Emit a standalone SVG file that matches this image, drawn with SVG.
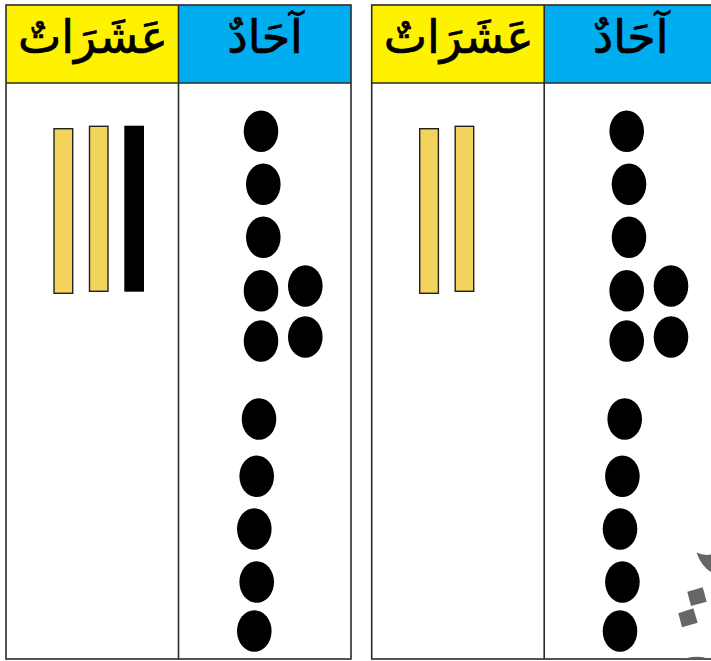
<svg xmlns="http://www.w3.org/2000/svg" width="711" height="661" viewBox="0 0 711 661">
<style>
.frame{fill:none;stroke:#2b2b2b;stroke-width:1.6}
.yel{fill:#FFF200}
.blu{fill:#00AEEF}
.hdr{font-family:"DejaVu Sans","Noto Sans",sans-serif;font-size:46px;fill:#000;stroke:#000;stroke-width:0.7;text-anchor:middle}
.bar{fill:#F2D45C;stroke:#222;stroke-width:1.4}
.bar-k{fill:#000}
.dot{fill:#000}
.deco{fill:#666}
</style>
<defs>
<g id="dots">
<ellipse class="dot" cx="261" cy="131.3" rx="17.3" ry="20.8"/>
<ellipse class="dot" cx="263.3" cy="184.3" rx="17.3" ry="20.8"/>
<ellipse class="dot" cx="263.3" cy="237.3" rx="17.3" ry="20.8"/>
<ellipse class="dot" cx="261" cy="290.7" rx="17.3" ry="20.8"/>
<ellipse class="dot" cx="305.3" cy="286" rx="17.3" ry="20.8"/>
<ellipse class="dot" cx="261" cy="341" rx="17.3" ry="20.8"/>
<ellipse class="dot" cx="305.3" cy="337" rx="17.3" ry="20.8"/>
<ellipse class="dot" cx="259" cy="419" rx="17.3" ry="20.8"/>
<ellipse class="dot" cx="256.7" cy="476.3" rx="17.3" ry="20.8"/>
<ellipse class="dot" cx="254.3" cy="529" rx="17.3" ry="20.8"/>
<ellipse class="dot" cx="256.7" cy="582" rx="17.3" ry="20.8"/>
<ellipse class="dot" cx="254.3" cy="631" rx="17.3" ry="20.8"/>
</g>
</defs>
<g id="table-left">
<rect class="yel" x="6" y="5" width="172.5" height="78"/>
<rect class="blu" x="178.5" y="5" width="172.5" height="78"/>
<rect class="frame" x="6" y="5" width="345" height="654"/>
<line class="frame" x1="6" y1="83" x2="351" y2="83"/>
<line class="frame" x1="178.5" y1="5" x2="178.5" y2="659"/>
<text class="hdr" x="93" y="53">عَشَرَاتٌ</text>
<text class="hdr" x="265" y="53">آحَادٌ</text>
<rect class="bar" x="54" y="128.7" width="18.7" height="164.6"/>
<rect class="bar" x="89.5" y="126.3" width="18.5" height="165"/>
<rect class="bar-k" x="124.3" y="125.7" width="19.7" height="166"/>
<use href="#dots"/>
</g>
<g id="table-right" transform="translate(365.7,0)">
<rect class="yel" x="6" y="5" width="172.5" height="78"/>
<rect class="blu" x="178.5" y="5" width="172.5" height="78"/>
<rect class="frame" x="6" y="5" width="345" height="654"/>
<line class="frame" x1="6" y1="83" x2="351" y2="83"/>
<line class="frame" x1="178.5" y1="5" x2="178.5" y2="659"/>
<text class="hdr" x="93" y="53">عَشَرَاتٌ</text>
<text class="hdr" x="265" y="53">آحَادٌ</text>
<rect class="bar" x="54" y="128.7" width="18.7" height="164.6"/>
<rect class="bar" x="89.5" y="126.3" width="18.5" height="165"/>
<use href="#dots"/>
</g>
<g id="decoration">
<path class="deco" d="M696.5 552.5 Q704 556 711 554.5 L711 572 Q701 566 696.5 552.5 Z"/>
<polygon class="deco" points="687.3,591.7 702.7,587.3 706.7,601.7 691,606"/>
<polygon class="deco" points="678.3,613.3 693.3,608.3 697.7,622.7 682,627.3"/>
<path class="deco" d="M686 658.2 Q697 655.5 707 658.2 Z"/>
</g>
</svg>
